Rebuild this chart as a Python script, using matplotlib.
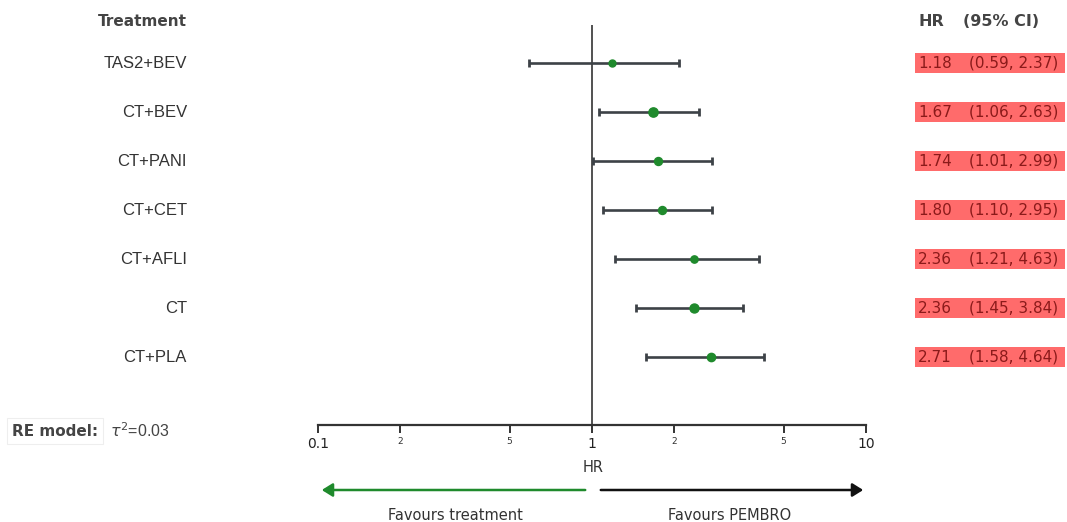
import matplotlib
matplotlib.use("Agg")
import matplotlib.pyplot as plt
from matplotlib.transforms import blended_transform_factory
from matplotlib.ticker import FixedLocator, FixedFormatter

treatments = ["TAS2+BEV", "CT+BEV", "CT+PANI", "CT+CET", "CT+AFLI", "CT", "CT+PLA"]
hr = [1.18, 1.67, 1.74, 1.80, 2.36, 2.36, 2.71]
lower = [0.59, 1.06, 1.01, 1.10, 1.21, 1.45, 1.58]
upper = [2.37, 2.63, 2.99, 2.95, 4.63, 3.84, 4.64]
# right whisker ends as actually drawn in the picture
upper_drawn = [2.08, 2.45, 2.73, 2.73, 4.07, 3.57, 4.24]
weights = [7.0, 9.3, 8.0, 8.0, 7.3, 9.0, 8.3]
major_ticks = [0.1, 1, 10]
major_labels = ["0.1", "1", "10"]
minor_ticks = [0.2, 0.5, 2, 5]
minor_labels = ["2", "5", "2", "5"]
tau2 = "0.03"

W, H = 1067, 522
fig = plt.figure(figsize=(W / 100, H / 100), dpi=100)
plt.rcParams['font.family'] = ['DejaVu Sans']

def fx(px):
    return px / W

def fy(py):
    return 1 - py / H

ax_left, ax_right, ax_top, ax_bot = 318, 866, 25, 425
ax = fig.add_axes([fx(ax_left), fy(ax_bot), fx(ax_right - ax_left), (ax_bot - ax_top) / H])
ax.set_xscale("log")
ax.set_xlim(0.1, 10)
row0, step = 63, 49
ax.set_ylim((ax_bot - row0) / step, (ax_top - row0) / step)

for s in ["top", "right", "left"]:
    ax.spines[s].set_visible(False)
ax.spines["bottom"].set_color("#333333")
ax.spines["bottom"].set_linewidth(1.6)
ax.set_yticks([])

ax.xaxis.set_major_locator(FixedLocator(major_ticks))
ax.xaxis.set_major_formatter(FixedFormatter(major_labels))
ax.xaxis.set_minor_locator(FixedLocator(minor_ticks))
ax.xaxis.set_minor_formatter(FixedFormatter(minor_labels))
ax.tick_params(axis="x", which="major", length=6, width=1.4, color="#333333",
               labelsize=10, labelcolor="#222222", pad=3)
ax.tick_params(axis="x", which="minor", length=6, width=1.4, color="#333333",
               labelsize=6.5, labelcolor="#333333", pad=3)

ax.axvline(1, color="#333333", lw=1.2, zorder=1)

ys = list(range(len(treatments)))
for i, y in enumerate(ys):
    ax.errorbar(hr[i], y, xerr=[[hr[i] - lower[i]], [upper_drawn[i] - hr[i]]],
                fmt="none", ecolor="#3d4247", elinewidth=1.9, capsize=3, capthick=2, zorder=2)
    ax.plot(hr[i], y, "o", color="#1f8a2c", ms=weights[i] * 0.72, mec="#1f8a2c", zorder=3)

# left labels
tr = blended_transform_factory(fig.transFigure, ax.transData)
fig.text(fx(187), fy(21), "Treatment", ha="right", va="center", fontsize=11,
         fontweight="bold", color="#444444")
for i, y in enumerate(ys):
    ax.text(fx(187), y, treatments[i], transform=tr, ha="right", va="center",
            fontsize=12, color="#333333", family="Liberation Sans")

# right column
fig.text(fx(918), fy(21), "HR", ha="left", va="center", fontsize=11.5,
         fontweight="bold", color="#444444")
fig.text(fx(963), fy(21), "(95% CI)", ha="left", va="center", fontsize=11.5,
         fontweight="bold", color="#444444")
for i, y in enumerate(ys):
    ax.add_patch(plt.Rectangle((fx(915), y - 0.2), fx(1065) - fx(915), 0.4,
                               transform=tr, facecolor="#ff6b6b", edgecolor="none",
                               clip_on=False, zorder=1))
    ax.text(fx(918), y, f"{hr[i]:.2f}", transform=tr, ha="left", va="center",
            fontsize=11, color="#8b1a1a")
    ax.text(fx(969), y, f"({lower[i]:.2f}, {upper[i]:.2f})", transform=tr, ha="left",
            va="center", fontsize=11, color="#8b1a1a")

# RE model
fig.text(fx(12), fy(431), "RE model:", ha="left", va="center", fontsize=11,
         fontweight="bold", color="#444444",
         bbox=dict(boxstyle="square,pad=0.35", fc="white", ec="#eeeeee", lw=0.8))
fig.text(fx(110), fy(431), r"$\tau^2$=" + tau2, ha="left", va="center", fontsize=11.5,
         color="#444444", family="Liberation Sans")

# HR label and arrows
fig.text(fx(593), fy(467), "HR", ha="center", va="center", fontsize=10.5, color="#333333")
fig.add_artist(matplotlib.patches.FancyArrowPatch(
    (fx(588), fy(490)), (fx(319), fy(490)), transform=fig.transFigure,
    arrowstyle="-|>,head_length=4,head_width=2.5", color="#1f8a2c", lw=1.8,
    mutation_scale=1.6))
fig.add_artist(matplotlib.patches.FancyArrowPatch(
    (fx(598), fy(490)), (fx(866), fy(490)), transform=fig.transFigure,
    arrowstyle="-|>,head_length=4,head_width=2.5", color="#111111", lw=1.8,
    mutation_scale=1.6))
fig.text(fx(455), fy(515), "Favours treatment", ha="center", va="center",
         fontsize=10.5, color="#333333")
fig.text(fx(730), fy(515), "Favours PEMBRO", ha="center", va="center",
         fontsize=10.5, color="#333333")

fig.savefig("out.png", dpi=100)
